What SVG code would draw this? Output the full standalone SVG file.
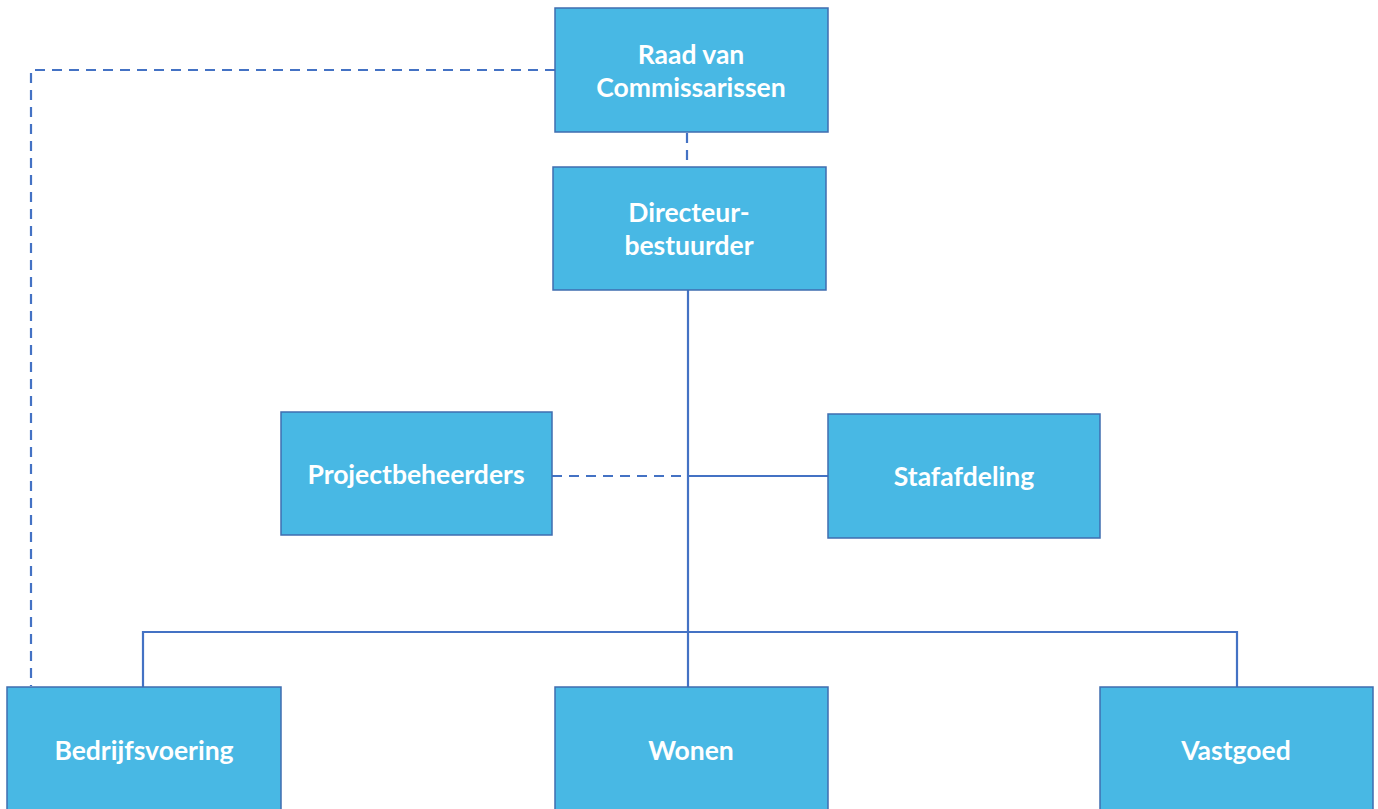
<svg xmlns="http://www.w3.org/2000/svg" width="1378" height="809" viewBox="0 0 1378 809">
<style>
.box{fill:#48B8E4;stroke:#3F6DB0;stroke-width:1.5}
.t{font-family:Lato,"Open Sans",sans-serif;font-weight:bold;font-size:26.5px;fill:#fff;text-anchor:middle}
.c{stroke:#4472C4;stroke-width:2.2;fill:none}
.d{stroke-dasharray:10 7}
</style>
<rect width="1378" height="809" fill="#fff"/>
<g id="connectors">
<path class="c d" d="M555,70 H31 V686"/>
<path class="c d" d="M687,133 V167"/>
<path class="c" d="M688,290 V687"/>
<path class="c d" d="M552,476 H688"/>
<path class="c" d="M688,476 H828"/>
<path class="c" d="M143,687 V632 H1237 V687"/>
</g>
<g id="raad"><rect class="box" x="555" y="8" width="273" height="124"/><text class="t" x="691" y="64">Raad van</text><text class="t" x="691" y="97">Commissarissen</text></g>
<g id="directeur"><rect class="box" x="553" y="167" width="273" height="123"/><text class="t" x="689" y="222">Directeur-</text><text class="t" x="689" y="255">bestuurder</text></g>
<g id="projectbeheerders"><rect class="box" x="281" y="412" width="271" height="123"/><text class="t" x="416" y="484">Projectbeheerders</text></g>
<g id="stafafdeling"><rect class="box" x="828" y="414" width="272" height="124"/><text class="t" x="964" y="486">Stafafdeling</text></g>
<g id="bedrijfsvoering"><rect class="box" x="7" y="687" width="274" height="130"/><text class="t" x="144" y="760">Bedrijfsvoering</text></g>
<g id="wonen"><rect class="box" x="555" y="687" width="273" height="130"/><text class="t" x="691" y="760">Wonen</text></g>
<g id="vastgoed"><rect class="box" x="1100" y="687" width="273" height="130"/><text class="t" x="1236" y="760">Vastgoed</text></g>
</svg>
